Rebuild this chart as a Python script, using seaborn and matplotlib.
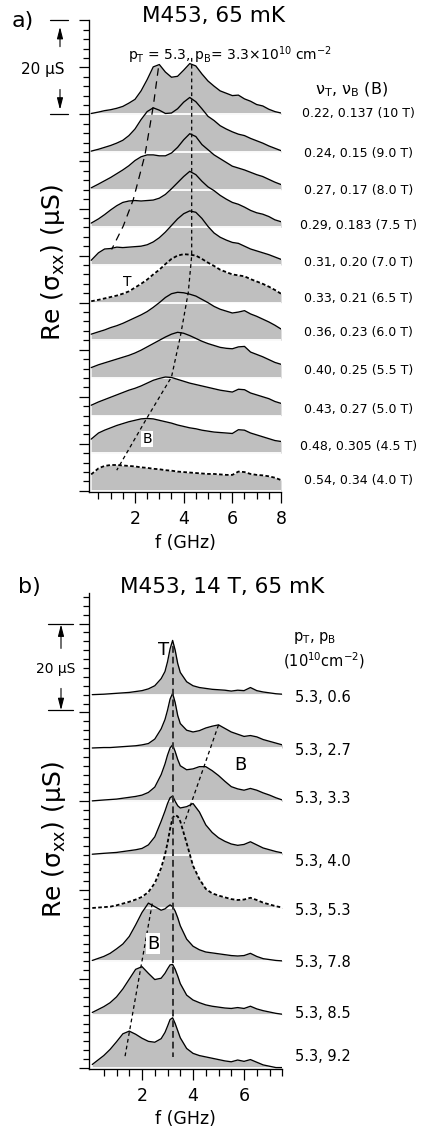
import numpy as np
import matplotlib
matplotlib.use('Agg')
import matplotlib.pyplot as plt
import matplotlib.transforms as mtransforms
from matplotlib.lines import Line2D
from matplotlib.ticker import MultipleLocator
import seaborn as sns

# ---- panel a: M453, 65 mK, traces at different B (heights above each baseline, uS)
freq_a = [0.2, 0.5, 0.75, 1.0, 1.25, 1.5, 1.75, 2.0, 2.25, 2.5, 2.75, 3.0, 3.25, 3.5, 3.75, 4.0,
          4.25, 4.5, 4.75, 5.0, 5.25, 5.5, 5.75, 6.0, 6.25, 6.5, 6.75, 7.0, 7.25, 7.5, 7.75, 8.0]
a_10T = [0.2, 0.5, 0.8, 1.0, 1.3, 1.7, 2.4, 3.2, 5.0, 7.4, 10.1, 10.6, 9.0, 7.9, 8.1, 9.4,
         10.8, 10.3, 8.6, 7.1, 6.0, 5.0, 4.5, 4.0, 4.1, 3.3, 2.8, 2.1, 1.8, 1.1, 0.6, 0.3]
a_9T = [0.2, 0.6, 1.0, 1.4, 1.9, 2.5, 3.5, 4.9, 6.9, 8.6, 9.4, 8.9, 8.2, 8.3, 9.2, 10.6,
        11.6, 10.7, 9.2, 7.6, 6.7, 5.6, 4.9, 4.3, 3.8, 3.5, 2.9, 2.4, 1.9, 1.3, 0.8, 0.3]
a_8T = [0.4, 1.2, 1.9, 2.6, 3.4, 4.2, 5.1, 6.2, 7.0, 7.4, 7.4, 7.2, 7.2, 7.8, 9.0, 10.6,
        11.9, 11.3, 9.6, 8.5, 7.4, 6.6, 5.8, 5.0, 4.6, 4.2, 3.7, 3.2, 2.8, 2.2, 1.6, 1.1]
a_75T = [0.9, 1.8, 2.7, 3.7, 4.6, 5.3, 5.6, 5.7, 5.6, 5.7, 5.8, 6.2, 7.0, 8.2, 9.5, 10.8,
         11.9, 11.2, 9.8, 8.6, 7.8, 6.8, 6.0, 5.3, 4.9, 4.3, 3.6, 3.1, 2.8, 2.3, 1.6, 1.2]
a_7T = [1.0, 2.6, 3.4, 3.5, 3.8, 3.7, 3.8, 3.9, 4.0, 4.3, 4.9, 5.8, 7.0, 8.4, 9.8, 10.9,
        11.5, 11.2, 9.9, 8.2, 6.8, 5.9, 5.3, 4.8, 4.6, 4.0, 3.4, 3.0, 2.6, 2.2, 1.7, 1.2]
a_65T = [0.3, 0.6, 0.9, 1.2, 1.5, 1.9, 2.4, 3.2, 4.0, 4.9, 6.0, 7.0, 8.2, 9.3, 10.0, 10.3,
         10.2, 10.0, 9.3, 8.5, 7.8, 7.0, 6.5, 6.0, 5.8, 5.6, 5.0, 4.5, 4.0, 3.4, 2.7, 1.9]
a_6T = [1.3, 1.8, 2.2, 2.7, 3.1, 3.6, 4.2, 4.8, 5.4, 6.1, 7.0, 8.0, 9.1, 9.9, 10.2, 10.1,
        9.8, 9.4, 8.7, 8.0, 7.2, 6.6, 6.2, 5.8, 6.0, 6.3, 5.6, 5.1, 4.5, 3.9, 3.2, 2.4]
a_55T = [2.2, 2.8, 3.2, 3.6, 4.0, 4.4, 4.8, 5.3, 5.9, 6.6, 7.3, 8.0, 8.7, 9.3, 9.7, 9.5,
         9.0, 8.4, 7.8, 7.3, 6.9, 6.5, 6.3, 6.2, 6.6, 6.7, 5.5, 5.0, 4.5, 3.9, 3.3, 2.9]
a_5T = [2.2, 2.9, 3.4, 3.9, 4.4, 4.9, 5.4, 5.8, 6.3, 6.9, 7.5, 7.9, 8.2, 8.1, 7.7, 7.3,
        6.9, 6.6, 6.3, 6.0, 5.7, 5.4, 5.2, 5.0, 5.6, 5.5, 4.8, 4.4, 4.0, 3.6, 3.0, 2.6]
a_45T = [3.0, 4.3, 4.9, 5.4, 5.9, 6.3, 6.7, 7.0, 7.3, 7.4, 7.3, 7.0, 6.7, 6.4, 6.0, 5.7,
         5.4, 5.2, 4.9, 4.7, 4.5, 4.4, 4.3, 4.2, 5.0, 4.9, 4.3, 3.9, 3.5, 3.1, 2.7, 2.5]
a_4T = [3.5, 4.8, 5.3, 5.5, 5.5, 5.4, 5.3, 5.2, 5.0, 4.9, 4.7, 4.6, 4.4, 4.3, 4.1, 4.0,
        3.9, 3.8, 3.7, 3.6, 3.6, 3.5, 3.4, 3.4, 4.1, 4.0, 3.6, 3.4, 3.3, 3.1, 2.8, 2.3]
labels_a = ['0.22, 0.137 (10 T)', '0.24, 0.15 (9.0 T)', '0.27, 0.17 (8.0 T)',
            '0.29, 0.183 (7.5 T)', '0.31, 0.20 (7.0 T)', '0.33, 0.21 (6.5 T)',
            '0.36, 0.23 (6.0 T)', '0.40, 0.25 (5.5 T)', '0.43, 0.27 (5.0 T)',
            '0.48, 0.305 (4.5 T)', '0.54, 0.34 (4.0 T)']
offset_a = 8.0
# peak-tracking guide lines (f in GHz, absolute uS)
guideT_a_f = [2.96, 2.75, 2.41, 1.93, 1.52, 1.04]
guideT_a_s = [89.8, 81.7, 71.4, 61.9, 56.3, 51.3]
guideB_a_f = [4.33, 4.33, 4.19, 3.87, 3.5, 2.48, 1.25]
guideB_a_s = [92.0, 50.0, 42.2, 33.0, 24.2, 15.4, 4.4]

# ---- panel b: M453, 14 T, 65 mK, traces at different p_B
freq_b = [0.05, 0.5, 0.75, 1.0, 1.25, 1.5, 1.75, 2.0, 2.25, 2.5, 2.75, 2.9, 3.0, 3.1, 3.2, 3.3,
          3.4, 3.5, 3.75, 4.0, 4.25, 4.5, 4.75, 5.0, 5.25, 5.5, 5.75, 6.0, 6.25, 6.5, 6.75, 7.0,
          7.25, 7.5]
b_06 = [0.0, 0.1, 0.2, 0.3, 0.4, 0.5, 0.7, 0.9, 1.3, 2.0, 3.6, 5.2, 7.4, 10.3, 12.2, 10.0,
        7.0, 5.0, 2.9, 2.0, 1.6, 1.4, 1.2, 1.1, 1.0, 0.8, 1.0, 0.9, 1.6, 0.9, 0.6, 0.4, 0.2, 0.1]
b_27 = [0.0, 0.1, 0.1, 0.2, 0.3, 0.4, 0.5, 0.7, 1.0, 2.0, 4.3, 6.4, 8.5, 11.0, 12.3, 10.2,
        7.3, 5.5, 4.0, 3.6, 3.9, 4.5, 4.9, 5.2, 4.4, 3.6, 3.1, 2.6, 2.8, 2.5, 1.9, 1.5, 1.1, 0.7]
b_33 = [0.1, 0.3, 0.4, 0.5, 0.7, 0.9, 1.1, 1.4, 2.0, 3.2, 6.0, 8.4, 10.4, 12.0, 12.7, 11.2,
        9.4, 8.0, 7.1, 7.3, 7.8, 7.8, 6.9, 5.8, 4.5, 3.3, 2.8, 2.5, 2.9, 2.5, 1.9, 1.4, 0.8, 0.3]
b_40 = [0.1, 0.3, 0.4, 0.5, 0.7, 0.9, 1.1, 1.4, 2.2, 4.0, 7.5, 9.8, 11.5, 12.8, 13.2, 12.0,
        11.0, 10.5, 10.8, 11.5, 9.6, 6.7, 5.0, 3.8, 3.0, 2.4, 2.1, 2.3, 2.9, 2.2, 1.5, 1.1, 0.7, 0.4]
b_53 = [0.0, 0.2, 0.3, 0.6, 1.0, 1.4, 1.9, 2.5, 3.6, 5.6, 9.0, 12.0, 14.6, 17.8, 20.3, 20.9,
        20.6, 19.5, 14.6, 9.5, 6.5, 4.3, 3.3, 2.8, 2.4, 2.0, 1.8, 1.9, 2.3, 1.8, 1.2, 0.8, 0.4, 0.1]
b_78 = [0.2, 1.1, 1.8, 2.8, 3.9, 5.6, 8.2, 11.0, 13.1, 12.3, 11.5, 11.8, 12.3, 12.7, 12.3, 11.3,
        9.8, 8.0, 5.0, 3.4, 2.6, 2.1, 1.9, 1.7, 1.5, 1.3, 1.2, 1.3, 1.8, 1.1, 0.6, 0.4, 0.2, 0.1]
b_85 = [0.5, 1.8, 2.7, 4.0, 5.8, 8.0, 10.2, 10.8, 9.3, 7.9, 8.2, 9.3, 10.3, 11.2, 11.3, 10.2,
        8.7, 7.0, 4.4, 3.3, 2.7, 2.2, 1.9, 1.7, 1.5, 1.4, 1.6, 1.4, 1.9, 1.3, 0.9, 0.6, 0.3, 0.1]
b_92 = [0.8, 2.8, 4.2, 5.9, 7.7, 8.3, 7.6, 6.7, 6.0, 5.8, 6.6, 8.0, 9.4, 10.9, 11.3, 10.0,
        8.4, 6.8, 4.4, 3.3, 2.8, 2.5, 2.2, 1.9, 1.6, 1.4, 1.8, 1.5, 1.9, 1.3, 0.7, 0.4, 0.1, 0.1]
labels_b = ['5.3, 0.6', '5.3, 2.7', '5.3, 3.3', '5.3, 4.0', '5.3, 5.3', '5.3, 7.8', '5.3, 8.5', '5.3, 9.2']
offset_b = 12.0
guideT_b_f = [3.2, 3.2]
guideT_b_s = [95.0, 2.5]
guideB1_b_f = [5.0, 3.65]
guideB1_b_s = [77.2, 55.0]
guideB2_b_f = [2.4, 1.33]
guideB2_b_s = [37.0, 2.5]

sns.set_theme(style='ticks')
plt.rcParams['font.family'] = ['DejaVu Sans']
plt.rcParams['mathtext.fontset'] = 'dejavusans'
# seaborn greys the text and spines, the original is plain black
for key in ('text.color', 'axes.labelcolor', 'axes.edgecolor', 'xtick.color', 'ytick.color'):
    plt.rcParams[key] = 'black'

W, H = 425, 1131
GRAY = '#bfbfbf'
SOLID = '-'
DOTS = (0, (2.0, 1.3))

fig = plt.figure(figsize=(W / 100, H / 100), dpi=100)
ax_a = fig.add_axes([89 / W, 1 - 492.3 / H, 192 / W, 472 / H])
ax_b = fig.add_axes([89.3 / W, 1 - 1069 / H, 193 / W, 475.7 / H])


def ftxt(x, y, s, **kw):
    # text placed by figure pixel position (from the top-left)
    fig.text(x / W, 1 - y / H, s, **kw)


def draw_traces(ax, freq, traces, styles, step):
    n = len(traces)
    for i, (h, ls) in enumerate(zip(traces, styles)):
        base = (n - 1 - i) * step
        y = base + np.asarray(h)
        ax.fill_between(freq, base, y, color=GRAY, lw=0, zorder=1)
        ax.hlines(base, freq[0], freq[-1], color='white', lw=1.3, zorder=2)
        sns.lineplot(x=freq, y=y, ax=ax, color='black', zorder=3, sort=False, estimator=None,
                     lw=0.95 if ls == SOLID else 1.3, linestyle=ls)


def style_axis(ax, xmaj, ymaj, ymin):
    sns.despine(ax=ax)
    for sp in ('left', 'bottom'):
        ax.spines[sp].set_linewidth(0.95)
    ax.xaxis.set_major_locator(MultipleLocator(xmaj))
    ax.yaxis.set_major_locator(MultipleLocator(ymaj))
    ax.yaxis.set_minor_locator(MultipleLocator(ymin))
    ax.tick_params(axis='x', which='major', length=8, width=0.9, labelsize=12.5, pad=5)
    ax.tick_params(axis='x', which='minor', length=5.2, width=0.9)
    ax.tick_params(axis='y', which='major', length=7, width=0.9, labelleft=False)
    ax.tick_params(axis='y', which='minor', length=4.3, width=0.9)
    ax.set_xlabel('f (GHz)', fontsize=12.5)
    ax.set_ylabel('Re (σ$_\\mathregular{xx}$) (μS)', fontsize=18)


def scale_bar(ax, x0, x1, xa, top, bot, up, down):
    tr = mtransforms.blended_transform_factory(fig.transFigure, ax.transData)
    for yv in (top, bot):
        fig.add_artist(Line2D([x0 / W, x1 / W], [yv, yv], transform=tr, color='black', lw=0.9))
    for seg in (up, down):
        ax.annotate('', xy=(xa / W, seg[1]), xytext=(xa / W, seg[0]), xycoords=tr, textcoords=tr,
                    arrowprops=dict(arrowstyle='-|>,head_length=0.7,head_width=0.18', color='black',
                                    lw=0.8, shrinkA=0, shrinkB=0, mutation_scale=10))


# ---------------- panel a
traces_a = [a_10T, a_9T, a_8T, a_75T, a_7T, a_65T, a_6T, a_55T, a_5T, a_45T, a_4T]
styles_a = [SOLID] * 5 + [DOTS] + [SOLID] * 4 + [DOTS]
draw_traces(ax_a, freq_a, traces_a, styles_a, offset_a)
ax_a.plot(guideT_a_f, guideT_a_s, color='black', lw=0.9, ls=(0, (6, 4.5)), zorder=4)
ax_a.plot(guideB_a_f, guideB_a_s, color='black', lw=0.9, ls=(0, (3, 2.5)), zorder=4)
ax_a.set_xlim(0.11, 8.0)
ax_a.set_ylim(-0.3, 100)
style_axis(ax_a, 2, 10, 2)
ax_a.xaxis.set_minor_locator(MultipleLocator(0.5))
ax_a.xaxis.set_label_coords(0.5, -0.088)
ax_a.yaxis.set_label_coords(-0.116, 0.486)

label_y_a = [80.2, 71.8, 63.8, 56.4, 48.5, 40.8, 33.6, 25.6, 17.3, 9.5, 2.2]
for lab, yv in zip(labels_a, label_y_a):
    ax_a.text(11.17, yv, lab, fontsize=9, ha='center', va='center', clip_on=False)
ax_a.text(1.67, 44.4, 'T', fontsize=10, ha='center', va='center', zorder=5)
ax_a.text(2.5, 11.1, 'B', fontsize=10, ha='center', va='center', zorder=5,
          bbox=dict(facecolor='white', edgecolor='none', pad=0.8))

ftxt(11.7, 26.5, 'a)', fontsize=16, ha='left', va='baseline')
ftxt(213.3, 21.7, 'M453, 65 mK', fontsize=15.5, ha='center', va='baseline')
ftxt(230, 59.5, 'p$_\\mathregular{T}$ = 5.3, p$_\\mathregular{B}$= 3.3×10$^\\mathregular{10}$ cm$^\\mathregular{-2}$',
     fontsize=10, ha='center', va='baseline')
ftxt(351, 94.5, 'ν$_\\mathregular{T}$, ν$_\\mathregular{B}$ (B)', fontsize=11.5, ha='center', va='baseline')
ftxt(42.5, 74, '20 μS', fontsize=11, ha='center', va='baseline')
scale_bar(ax_a, 50, 67.5, 60, 100, 80, (94.4, 98.6), (85.3, 81.0))

# ---------------- panel b
traces_b = [b_06, b_27, b_33, b_40, b_53, b_78, b_85, b_92]
styles_b = [SOLID] * 4 + [DOTS] + [SOLID] * 3
draw_traces(ax_b, freq_b, traces_b, styles_b, offset_b)
ax_b.plot(guideT_b_f, guideT_b_s, color='#333333', lw=1.4, ls=(0, (3.5, 2)), zorder=4)
ax_b.plot(guideB1_b_f, guideB1_b_s, color='black', lw=0.9, ls=(0, (3, 2.5)), zorder=4)
ax_b.plot(guideB2_b_f, guideB2_b_s, color='black', lw=0.9, ls=(0, (3, 2.5)), zorder=4)
ax_b.set_xlim(-0.067, 7.5)
ax_b.set_ylim(-0.22, 106.8)
style_axis(ax_b, 2, 20, 2)
ax_b.set_xticks([2, 4, 6])
ax_b.set_xticks(np.arange(0.5, 7.51, 0.5), minor=True)
ax_b.xaxis.set_label_coords(0.5, -0.086)
ax_b.yaxis.set_label_coords(-0.109, 0.483)

label_y_b = [83.4, 71.5, 60.6, 46.5, 35.5, 23.7, 12.2, 2.5]
for lab, yv in zip(labels_b, label_y_b):
    ax_b.text(8.0, yv, lab, fontsize=10.5, ha='left', va='center', clip_on=False)
ax_b.text(2.84, 94.0, 'T', fontsize=13, ha='center', va='center', zorder=5)
ax_b.text(5.84, 68.2, 'B', fontsize=13, ha='center', va='center', zorder=5)
ax_b.text(2.44, 28.0, 'B', fontsize=13, ha='center', va='center', zorder=5,
          bbox=dict(facecolor='white', edgecolor='none', pad=0.8))

ftxt(18.3, 593.3, 'b)', fontsize=16, ha='left', va='baseline')
ftxt(221.7, 593.3, 'M453, 14 T, 65 mK', fontsize=15.5, ha='center', va='baseline')
ftxt(315, 638, 'p$_\\mathregular{T}$, p$_\\mathregular{B}$', fontsize=10.5, ha='center', va='center')
ftxt(324, 661, '(10$^\\mathregular{10}$cm$^\\mathregular{-2}$)', fontsize=10.5, ha='center', va='center')
ftxt(55.5, 673.5, '20 μS', fontsize=10, ha='center', va='baseline')
scale_bar(ax_b, 48.3, 72.7, 61, 100, 80.5, (94.4, 99.8), (85.4, 80.5))

fig.savefig('out.png', dpi=100)
